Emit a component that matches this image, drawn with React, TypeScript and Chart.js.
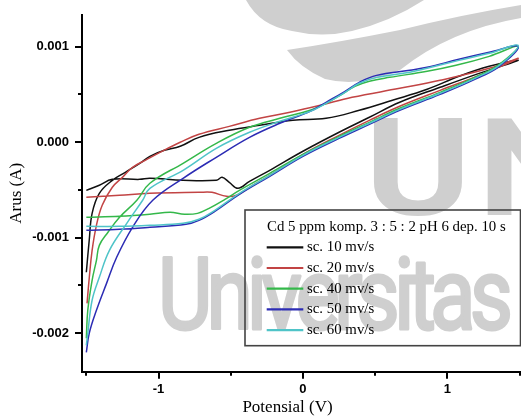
import { useEffect, useRef } from "react";
import { Chart, registerables } from "chart.js";

Chart.register(...registerables);

const SERIES_LABELS = ["sc. 10 mv/s", "sc. 20 mv/s", "sc. 40 mv/s", "sc. 50 mv/s", "sc. 60 mv/s"];
const SERIES_COLORS = ["#111111", "#c24444", "#34b84a", "#2c2cb4", "#4fc4c8"];

const SC10_V = [-1.50, -1.41, -1.32, -1.13, -1.06, -0.83, -0.60, -0.56, -0.51, -0.45, -0.37, -0.23, 0.00, 0.25, 0.46, 0.67, 0.95, 1.22, 1.49, 1.29, 1.08, 0.86, 0.62, 0.39, 0.16, -0.07, -0.30, -0.51, -0.72, -0.85, -0.96, -1.06, -1.13, -1.23, -1.32, -1.41, -1.46, -1.48, -1.50];
const SC10_I = [-0.000506, -0.000453, -0.000391, -0.000391, -0.000380, -0.000401, -0.000401, -0.000370, -0.000422, -0.000485, -0.000412, -0.000296, -0.000097, 0.000102, 0.000259, 0.000416, 0.000573, 0.000719, 0.000855, 0.000793, 0.000688, 0.000552, 0.000437, 0.000332, 0.000248, 0.000227, 0.000175, 0.000123, 0.000049, -0.000045, -0.000087, -0.000150, -0.000223, -0.000317, -0.000401, -0.000537, -0.000747, -0.001029, -0.001364];

const SC20_V = [-1.50, -1.27, -1.06, -0.72, -0.63, -0.53, -0.46, -0.37, -0.23, 0.00, 0.25, 0.46, 0.67, 0.95, 1.22, 1.49, 1.29, 0.95, 0.67, 0.34, 0.12, -0.09, -0.30, -0.51, -0.72, -0.85, -0.99, -1.08, -1.18, -1.25, -1.32, -1.39, -1.43, -1.46, -1.48, -1.495];
const SC20_I = [-0.000579, -0.000558, -0.000537, -0.000527, -0.000527, -0.000569, -0.000558, -0.000474, -0.000349, -0.000129, 0.000070, 0.000227, 0.000374, 0.000541, 0.000698, 0.000876, 0.000772, 0.000646, 0.000562, 0.000468, 0.000384, 0.000311, 0.000248, 0.000164, 0.000081, -0.000003, -0.000108, -0.000181, -0.000265, -0.000370, -0.000474, -0.000663, -0.000872, -0.001134, -0.001427, -0.001689];

const SC40_V = [-1.50, -1.27, -1.06, -0.92, -0.82, -0.73, -0.65, -0.54, -0.44, -0.23, 0.00, 0.25, 0.46, 0.67, 0.95, 1.19, 1.36, 1.49, 1.29, 1.06, 0.86, 0.60, 0.46, 0.36, 0.28, 0.16, 0.05, -0.16, -0.37, -0.60, -0.83, -1.06, -1.15, -1.27, -1.35, -1.41, -1.43, -1.46, -1.49, -1.50];
const SC40_I = [-0.000788, -0.000778, -0.000757, -0.000736, -0.000757, -0.000747, -0.000694, -0.000600, -0.000506, -0.000328, -0.000129, 0.000059, 0.000206, 0.000353, 0.000520, 0.000677, 0.000814, 0.001002, 0.000897, 0.000803, 0.000740, 0.000677, 0.000636, 0.000583, 0.000510, 0.000405, 0.000332, 0.000248, 0.000154, -0.000014, -0.000223, -0.000432, -0.000610, -0.000788, -0.000945, -0.001082, -0.001239, -0.001448, -0.001762, -0.002055];

const SC50_V = [-1.50, -1.27, -1.06, -0.81, -0.72, -0.61, -0.44, -0.23, 0.00, 0.25, 0.46, 0.67, 0.95, 1.19, 1.36, 1.49, 1.29, 1.08, 0.86, 0.74, 0.51, 0.39, 0.28, 0.16, 0.05, -0.16, -0.37, -0.60, -0.83, -1.04, -1.18, -1.29, -1.36, -1.43, -1.48, -1.50];
const SC50_I = [-0.000925, -0.000914, -0.000893, -0.000862, -0.000820, -0.000726, -0.000548, -0.000359, -0.000150, 0.000038, 0.000185, 0.000332, 0.000499, 0.000656, 0.000793, 0.001002, 0.000939, 0.000866, 0.000782, 0.000751, 0.000698, 0.000625, 0.000520, 0.000416, 0.000321, 0.000196, 0.000049, -0.000160, -0.000380, -0.000610, -0.000893, -0.001207, -0.001480, -0.001762, -0.002003, -0.002202];

const SC60_V = [-1.50, -1.27, -1.06, -0.83, -0.72, -0.61, -0.44, -0.23, 0.00, 0.25, 0.46, 0.67, 0.95, 1.19, 1.36, 1.49, 1.29, 1.08, 0.86, 0.74, 0.51, 0.39, 0.28, 0.16, 0.05, -0.16, -0.37, -0.60, -0.83, -1.06, -1.11, -1.22, -1.34, -1.41, -1.46, -1.49, -1.50];
const SC60_I = [-0.000883, -0.000883, -0.000872, -0.000851, -0.000809, -0.000715, -0.000537, -0.000349, -0.000139, 0.000049, 0.000196, 0.000342, 0.000510, 0.000667, 0.000803, 0.001013, 0.000929, 0.000855, 0.000772, 0.000730, 0.000677, 0.000615, 0.000510, 0.000405, 0.000321, 0.000217, 0.000102, -0.000066, -0.000296, -0.000485, -0.000610, -0.000851, -0.001134, -0.001417, -0.001657, -0.002003, -0.002128];

const X_MAJOR = [-1, 0, 1];
const X_MAJOR_LABELS = ["-1", "0", "1"];
const X_MINOR = [-1.5, -0.5, 0.5, 1.5];
const Y_MAJOR = [0.001, 0, -0.001, -0.002];
const Y_MAJOR_LABELS = ["0.001", "0.000", "-0.001", "-0.002"];
const Y_MINOR = [0.0005, -0.0005, -0.0015];

const X_TITLE = "Potensial (V)";
const Y_TITLE = "Arus (A)";
const LEGEND_TITLE = "Cd 5 ppm komp. 3 : 5 : 2 pH 6 dep. 10 s";
const WATERMARK_TEXT = "Universitas";
const WATERMARK_BIG = ["U", "N"];

const SERIES_V = [SC10_V, SC20_V, SC40_V, SC50_V, SC60_V];
const SERIES_I = [SC10_I, SC20_I, SC40_I, SC50_I, SC60_I];

const WM = "#cfcfcf";

const watermarkPlugin = {
  id: "watermark",
  beforeDraw(chart: any) {
    const ctx = chart.ctx as CanvasRenderingContext2D;
    ctx.save();
    ctx.fillStyle = "#ffffff";
    ctx.fillRect(0, 0, chart.width, chart.height);
    ctx.fillStyle = WM;
    ctx.strokeStyle = WM;
    // swoosh logo (upper band)
    ctx.beginPath();
    ctx.moveTo(246, 0);
    ctx.quadraticCurveTo(260, 26, 292, 31);
    ctx.quadraticCurveTo(322, 38, 352, 31);
    ctx.quadraticCurveTo(390, 22, 424, 0);
    ctx.closePath();
    ctx.fill();
    // swoosh logo (lower band)
    ctx.beginPath();
    ctx.moveTo(287, 50);
    ctx.quadraticCurveTo(340, 42, 400, 30);
    ctx.quadraticCurveTo(460, 15, 521, 5);
    ctx.lineTo(521, 18);
    ctx.quadraticCurveTo(450, 30, 400, 70);
    ctx.quadraticCurveTo(360, 88, 325, 79);
    ctx.quadraticCurveTo(300, 68, 287, 50);
    ctx.closePath();
    ctx.fill();
    // big "UN"
    ctx.font = 'bold 136px Roboto, "Liberation Sans", sans-serif';
    ctx.textBaseline = "alphabetic";
    ctx.textAlign = "left";
    const mu = ctx.measureText(WATERMARK_BIG[0]);
    const inkU = mu.actualBoundingBoxLeft + mu.actualBoundingBoxRight;
    const sxU = 89 / inkU;
    ctx.save();
    ctx.translate(373, 215);
    ctx.scale(sxU, 1);
    ctx.fillText(WATERMARK_BIG[0], mu.actualBoundingBoxLeft, 0);
    ctx.restore();
    const mn = ctx.measureText(WATERMARK_BIG[1]);
    ctx.save();
    ctx.translate(487, 215);
    ctx.scale(sxU, 1);
    ctx.fillText(WATERMARK_BIG[1], mn.actualBoundingBoxLeft, 0);
    ctx.restore();
    // "Universitas"
    ctx.font = '100px Roboto, "Liberation Sans", sans-serif';
    (ctx as any).letterSpacing = "-7px";
    const mw = ctx.measureText(WATERMARK_TEXT);
    const inkW = mw.actualBoundingBoxLeft + mw.actualBoundingBoxRight;
    const sx = 346 / inkW;
    ctx.save();
    ctx.translate(163, 329);
    ctx.scale(sx, 1);
    ctx.lineWidth = 3;
    ctx.lineJoin = "round";
    ctx.fillText(WATERMARK_TEXT, mw.actualBoundingBoxLeft, 0);
    ctx.strokeText(WATERMARK_TEXT, mw.actualBoundingBoxLeft, 0);
    ctx.restore();
    (ctx as any).letterSpacing = "0px";
    ctx.restore();
  },
};

const decorPlugin = {
  id: "decor",
  afterDraw(chart: any) {
    const ctx = chart.ctx as CanvasRenderingContext2D;
    const xs = chart.scales.x;
    const ys = chart.scales.y;
    const area = chart.chartArea;
    ctx.save();
    // minor ticks
    ctx.strokeStyle = "#000";
    ctx.lineWidth = 2;
    ctx.beginPath();
    X_MINOR.forEach((v) => {
      const px = Math.round(xs.getPixelForValue(v));
      ctx.moveTo(px, area.bottom);
      ctx.lineTo(px, area.bottom + 4);
    });
    Y_MINOR.forEach((v) => {
      const py = Math.round(ys.getPixelForValue(v));
      ctx.moveTo(area.left - 4, py);
      ctx.lineTo(area.left, py);
    });
    ctx.stroke();
    // axis titles
    ctx.fillStyle = "#000";
    ctx.font = '17px "Liberation Serif", "Times New Roman", serif';
    ctx.textAlign = "center";
    ctx.textBaseline = "middle";
    ctx.fillText(X_TITLE, 287.5, 408);
    ctx.save();
    ctx.translate(17, (area.top + area.bottom) / 2);
    ctx.rotate(-Math.PI / 2);
    ctx.fillText(Y_TITLE, 0, 0);
    ctx.restore();
    // legend box
    ctx.strokeStyle = "#444";
    ctx.lineWidth = 1.6;
    ctx.strokeRect(245, 210, 275.5, 135.7);
    let size = 14;
    ctx.font = `${size}px "Liberation Serif", serif`;
    const w = ctx.measureText(LEGEND_TITLE).width;
    size = Math.max(11, Math.min(17, (size * 239) / w));
    ctx.font = `${size}px "Liberation Serif", serif`;
    ctx.textAlign = "left";
    ctx.textBaseline = "middle";
    ctx.fillStyle = "#000";
    ctx.fillText(LEGEND_TITLE, 267, 226.7);
    chart.data.datasets.forEach((ds: any, i: number) => {
      const y = 247.3 + i * 20.7;
      ctx.strokeStyle = ds.borderColor;
      ctx.lineWidth = 2.2;
      ctx.beginPath();
      ctx.moveTo(266.7, y);
      ctx.lineTo(303.3, y);
      ctx.stroke();
      ctx.fillStyle = "#000";
      ctx.fillText(ds.label, 307, y);
    });
    ctx.restore();
  },
};

export default function App() {
  const ref = useRef<HTMLCanvasElement | null>(null);
  useEffect(() => {
    document.body.style.margin = "0";
    const canvas = ref.current;
    if (!canvas) return;
    const tickFont = { family: '"Liberation Sans", Arial, sans-serif', weight: "bold" as const, size: 13 };
    const chart = new Chart(canvas, {
      type: "scatter",
      data: {
        datasets: SERIES_LABELS.map((label, i) => ({
          label,
          data: SERIES_V[i].map((v, j) => ({ x: v, y: SERIES_I[i][j] })),
          showLine: true,
          borderColor: SERIES_COLORS[i],
          backgroundColor: SERIES_COLORS[i],
          borderWidth: 1.5,
          pointRadius: 0,
          tension: 0.4,
          fill: false,
          order: SERIES_LABELS.length - 1 - i,
        })),
      },
      options: {
        animation: false,
        responsive: false,
        maintainAspectRatio: false,
        layout: { padding: { top: 15, left: 0, right: 0, bottom: 0 } },
        plugins: { legend: { display: false }, tooltip: { enabled: false }, title: { display: false } },
        scales: {
          x: {
            type: "linear",
            min: -1.53,
            max: 1.51,
            afterFit: (s: any) => {
              s.height = 46.3;
            },
            afterBuildTicks: (s: any) => {
              s.ticks = X_MAJOR.map((v) => ({ value: v }));
            },
            ticks: {
              autoSkip: false,
              maxRotation: 0,
              padding: 3,
              color: "#000",
              font: tickFont,
              callback: (v: any) => {
                const k = X_MAJOR.indexOf(Number(v));
                return k >= 0 ? X_MAJOR_LABELS[k] : "";
              },
            },
            grid: { drawOnChartArea: false, drawTicks: true, tickLength: 7, color: "#000", lineWidth: 2 },
            border: { display: true, color: "#000", width: 2 },
          },
          y: {
            type: "linear",
            min: -0.002405,
            max: 0.00133,
            afterFit: (s: any) => {
              s.width = 82;
            },
            afterBuildTicks: (s: any) => {
              s.ticks = Y_MAJOR.map((v) => ({ value: v }));
            },
            ticks: {
              autoSkip: false,
              padding: 6,
              color: "#000",
              font: tickFont,
              callback: (v: any) => {
                const k = Y_MAJOR.findIndex((t) => Math.abs(t - Number(v)) < 1e-9);
                return k >= 0 ? Y_MAJOR_LABELS[k] : "";
              },
            },
            grid: { drawOnChartArea: false, drawTicks: true, tickLength: 7, color: "#000", lineWidth: 2 },
            border: { display: true, color: "#000", width: 2 },
          },
        },
      },
      plugins: [watermarkPlugin, decorPlugin],
    } as any);
    return () => chart.destroy();
  }, []);
  return <canvas ref={ref} width={521} height={418} style={{ display: "block" }} />;
}
